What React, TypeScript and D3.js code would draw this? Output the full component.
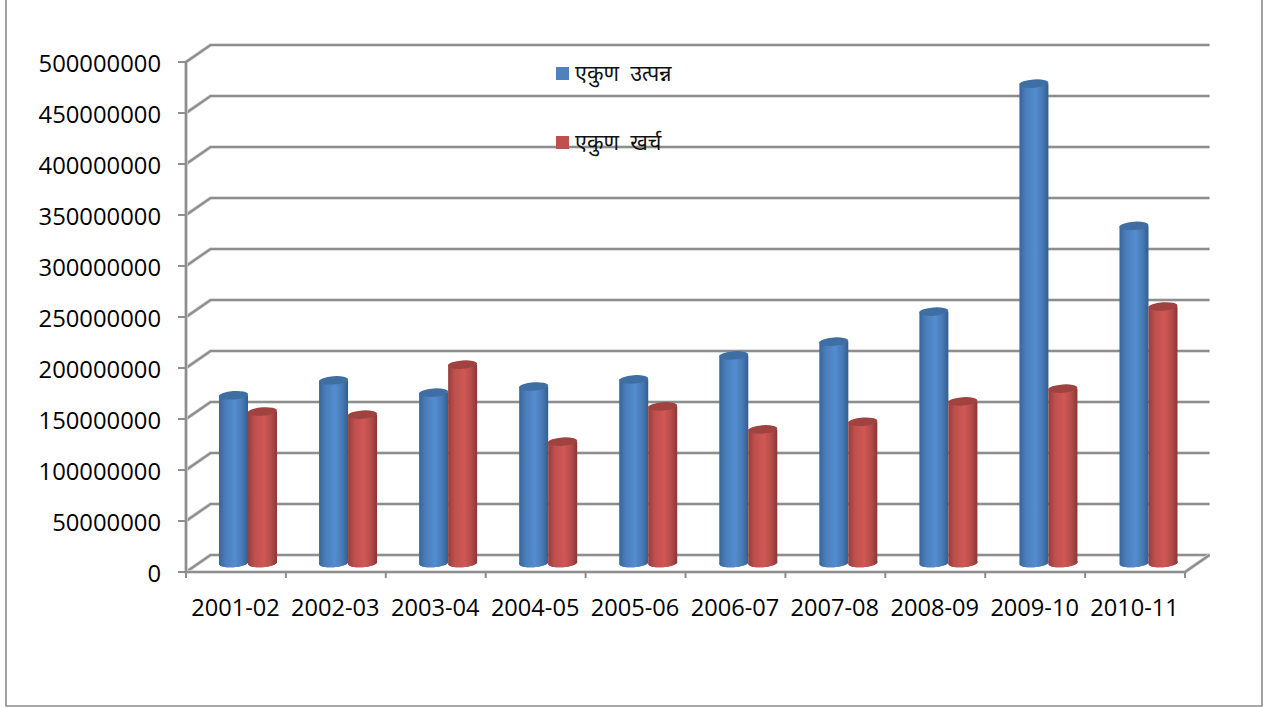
import React from "react";
import * as d3 from "d3";

// Fiscal years along the category axis
const years = ["2001-02","2002-03","2003-04","2004-05","2005-06","2006-07","2007-08","2008-09","2009-10","2010-11"];
// Total income per year
const income = [164500000,179000000,167000000,173000000,180000000,203500000,217000000,246500000,470000000,330500000];
// Total expenditure per year
const expense = [148500000,145500000,194500000,119000000,153500000,131000000,138500000,158500000,171000000,251500000];
const yTicks = d3.range(0, 500000001, 50000000);
const incomeLabel = "एकुण  उत्पन्न";
const expenseLabel = "एकुण  खर्च";

const W = 1273, H = 708;
const FONT = "'Open Sans','Noto Sans',sans-serif";
const DEV_FONT = "'Noto Sans Devanagari','Noto Sans','Lohit Devanagari',sans-serif";
const AXIS = "#8e8e8e";

// Oblique 3-D projection: the back wall is shifted right and up from the front plane
const DX = 24.5, DY = 17;
const x = d3.scaleBand<string>().domain(years).range([186, 1185]);
// Cylinders stand at mid depth, where the category spacing is slightly wider
const barX = d3.scaleBand<string>().domain(years).range([198, 1198.5]);
const y = d3.scaleLinear().domain([0, 500000000]).range([572, 62]);
const MID_Y = DY / 2 + 0.5;
const BAR_W = 29, RX = 14.5, RY = 4.2, TILT = -4;

function Cylinder({ cx, value, body, top, bottom }: { cx: number; value: number; body: string; top: string; bottom: string }) {
  const yTop = y(value) - MID_Y;
  const yBase = y(0) - MID_Y;
  return (
    <g>
      <ellipse cx={cx} cy={yBase} rx={RX} ry={RY} fill={bottom} transform={`rotate(${TILT} ${cx} ${yBase})`} />
      <rect x={cx - RX} y={yTop} width={BAR_W} height={yBase - yTop} fill={`url(#${body})`} />
      <ellipse cx={cx} cy={yBase} rx={RX} ry={RY} fill={`url(#${body})`} transform={`rotate(${TILT} ${cx} ${yBase})`} />
      <ellipse cx={cx} cy={yTop} rx={RX} ry={RY} fill={top} transform={`rotate(${TILT} ${cx} ${yTop})`} />
    </g>
  );
}

function GridLine({ d }: { d: string }) {
  return (
    <g fill="none">
      <path d={d} stroke="#d4d4d4" strokeWidth={3.6} />
      <path d={d} stroke={AXIS} strokeWidth={2.2} />
    </g>
  );
}

export default function App() {
  const band = x.bandwidth();
  const backRight = x.range()[1] + DX;
  return (
    <svg width={W} height={H} style={{ position: "absolute", left: 0, top: 0, background: "#fff" }}>
      <defs>
        <linearGradient id="blueBody" x1="0" x2="1" y1="0" y2="0">
          <stop offset="0" stopColor="#37659a" />
          <stop offset="0.22" stopColor="#4a7dba" />
          <stop offset="0.55" stopColor="#548dd0" />
          <stop offset="0.8" stopColor="#4779b4" />
          <stop offset="1" stopColor="#335e8e" />
        </linearGradient>
        <linearGradient id="redBody" x1="0" x2="1" y1="0" y2="0">
          <stop offset="0" stopColor="#963d3b" />
          <stop offset="0.22" stopColor="#bd504d" />
          <stop offset="0.55" stopColor="#d05754" />
          <stop offset="0.8" stopColor="#b34c49" />
          <stop offset="1" stopColor="#8a3735" />
        </linearGradient>
      </defs>

      {/* Chart frame, open along the top edge */}
      <path d={`M6 0V706H1262V0`} fill="none" stroke="#8c8c8c" strokeWidth={1.6} />

      {/* Wall gridlines with their receding side-wall segments */}
      {yTicks.map((t) => (
        <GridLine key={t} d={`M${x.range()[0]} ${y(t)}L${x.range()[0] + DX} ${y(t) - DY}H${backRight}`} />
      ))}

      {/* Floor edges and axes */}
      <GridLine d={`M${x.range()[1]} ${y(0)}L${backRight} ${y(0) - DY}`} />
      <GridLine d={`M${x.range()[0]} ${y(500000000)}V${y(0)}H${x.range()[1]}`} />
      {yTicks.map((t) => (
        <line key={t} x1={178} x2={186} y1={y(t)} y2={y(t)} stroke={AXIS} strokeWidth={2} />
      ))}
      {[...years.map((c) => x(c)!), x.range()[1]].map((px) => (
        <line key={px} x1={px} x2={px} y1={y(0)} y2={y(0) + 6} stroke={AXIS} strokeWidth={2} />
      ))}

      {/* Paired cylinders for each year */}
      {years.map((c, i) => {
        const center = barX(c)! + barX.bandwidth() / 2;
        return (
          <g key={c}>
            <Cylinder cx={center - BAR_W / 2} value={income[i]} body="blueBody" top="#3f6ea3" bottom="#37659a" />
            <Cylinder cx={center + BAR_W / 2} value={expense[i]} body="redBody" top="#a04240" bottom="#963d3b" />
          </g>
        );
      })}

      {/* Value axis labels */}
      {yTicks.map((t) => (
        <text key={t} x={161} y={y(t) + 9.5} textAnchor="end" fontFamily={FONT} fontSize={23.8} fill="#000">{t}</text>
      ))}

      {/* Category labels */}
      {years.map((c) => (
        <text key={c} x={x(c)! + band / 2 - 0.5} y={616} textAnchor="middle" fontFamily={FONT} fontSize={23.6} fill="#000">{c}</text>
      ))}

      {/* Legend */}
      <rect x={556} y={67} width={13} height={13} fill="#4f81bd" />
      <text x={575} y={81} fontFamily={DEV_FONT} fontSize={21.5} fill="#111" style={{ whiteSpace: "pre" }}>{incomeLabel}</text>
      <rect x={556} y={136} width={13} height={13} fill="#c0504d" />
      <text x={575} y={150} fontFamily={DEV_FONT} fontSize={21.5} fill="#111" style={{ whiteSpace: "pre" }}>{expenseLabel}</text>
    </svg>
  );
}
